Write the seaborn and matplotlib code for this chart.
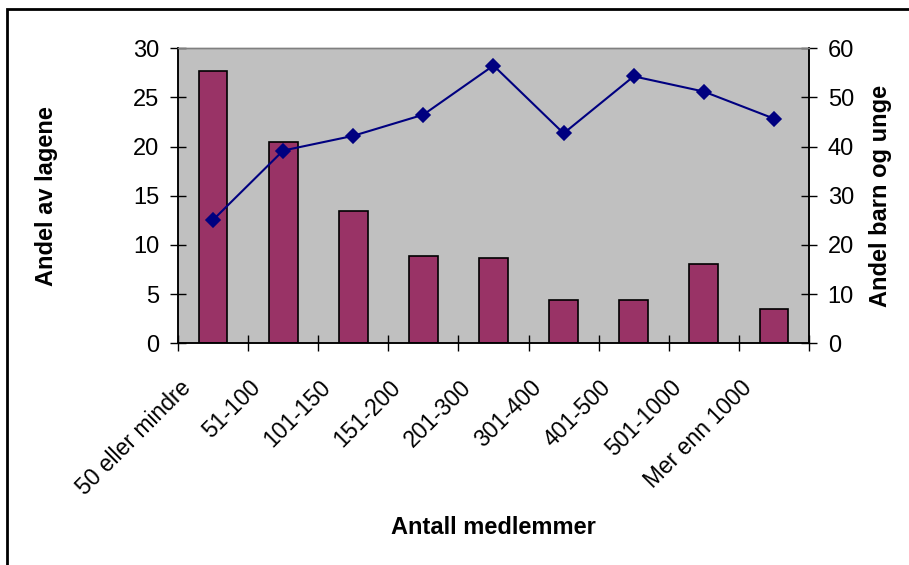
import numpy as np
import pandas as pd
import seaborn as sns
import matplotlib.pyplot as plt
import matplotlib.transforms as mtransforms
from matplotlib.patches import Rectangle

# Data
kategorier = ['50 eller mindre', '51-100', '101-150', '151-200', '201-300',
              '301-400', '401-500', '501-1000', 'Mer enn 1000']
andel_lag = [27.7, 20.5, 13.5, 8.9, 8.7, 4.4, 4.4, 8.1, 3.5]
andel_barn = [25.1, 39.2, 42.2, 46.5, 56.5, 42.7, 54.3, 51.2, 45.7]

df = pd.DataFrame({'kategori': kategorier, 'lag': andel_lag, 'barn': andel_barn})

sns.set_style('white')
plt.rcParams['font.family'] = ['Liberation Sans', 'DejaVu Sans']
plt.rcParams['text.color'] = 'black'
plt.rcParams['xtick.color'] = 'black'
plt.rcParams['ytick.color'] = 'black'

fig = plt.figure(figsize=(9.09, 5.65), dpi=100)
ax = fig.add_axes([178 / 909, 1 - 343.3 / 565, (809 - 178) / 909, (343.3 - 48.3) / 565])
ax.set_facecolor('#C0C0C0')

sns.barplot(data=df, x='kategori', y='lag', color='#993366', saturation=1,
            width=0.41, edgecolor='black', linewidth=1.2, ax=ax)

ax2 = ax.twinx()
sns.pointplot(data=df, x='kategori', y='barn', color='#000080', markers='D',
              linestyles='-', markersize=7, linewidth=1.5, ax=ax2)

ax.set_xlim(-0.5, len(kategorier) - 0.5)
ax2.set_xlim(-0.5, len(kategorier) - 0.5)
ax.set_ylim(0, 30)
ax2.set_ylim(0, 60)
ax.set_yticks(np.arange(0, 31, 5))
ax2.set_yticks(np.arange(0, 61, 10))

ax.set_xlabel('')
ax.set_ylabel('')
ax2.set_xlabel('')
ax2.set_ylabel('')

# spines
for a in (ax, ax2):
    for side in ('left', 'bottom', 'right'):
        a.spines[side].set_color('black')
        a.spines[side].set_linewidth(1.1)
    a.spines['top'].set_color('#808080')
    a.spines['top'].set_linewidth(1.0)

# ticks
ax.tick_params(axis='y', direction='inout', length=11, width=1, labelsize=17, pad=8,
               left=True, colors='black')
ax2.tick_params(axis='y', direction='inout', length=11, width=1, labelsize=17, pad=8,
                right=True, colors='black')
ax.set_xticks(np.arange(len(kategorier) + 1) - 0.5, minor=True)
ax.tick_params(axis='x', which='minor', direction='inout', length=12, width=1,
               bottom=True, color='black')
ax.tick_params(axis='x', which='major', length=0, labelsize=16.5, pad=0,
               labelcolor='black')
ax.set_xticklabels(kategorier, rotation=45, ha='right', va='center',
                   rotation_mode='anchor')
offset = mtransforms.ScaledTranslation(-0.26, -0.41, fig.dpi_scale_trans)
for lbl in ax.get_xticklabels():
    lbl.set_transform(lbl.get_transform() + offset)

# axis titles
fig.text(493.5 / 909, 1 - 527 / 565, 'Antall medlemmer', ha='center', va='center',
         fontsize=17, fontweight='bold')
fig.text(47 / 909, 1 - 196 / 565, 'Andel av lagene', ha='center', va='center',
         rotation=90, fontsize=17, fontweight='bold')
fig.text(880 / 909, 1 - 196 / 565, 'Andel barn og unge', ha='center', va='center',
         rotation=90, fontsize=17, fontweight='bold')

# outer frame
fig.patches.append(Rectangle((7 / 909, -0.02), 1.05, 1 - 9 / 565 + 0.02,
                             transform=fig.transFigure, fill=False,
                             edgecolor='black', linewidth=2, zorder=10))

fig.savefig('out.png', dpi=100)
